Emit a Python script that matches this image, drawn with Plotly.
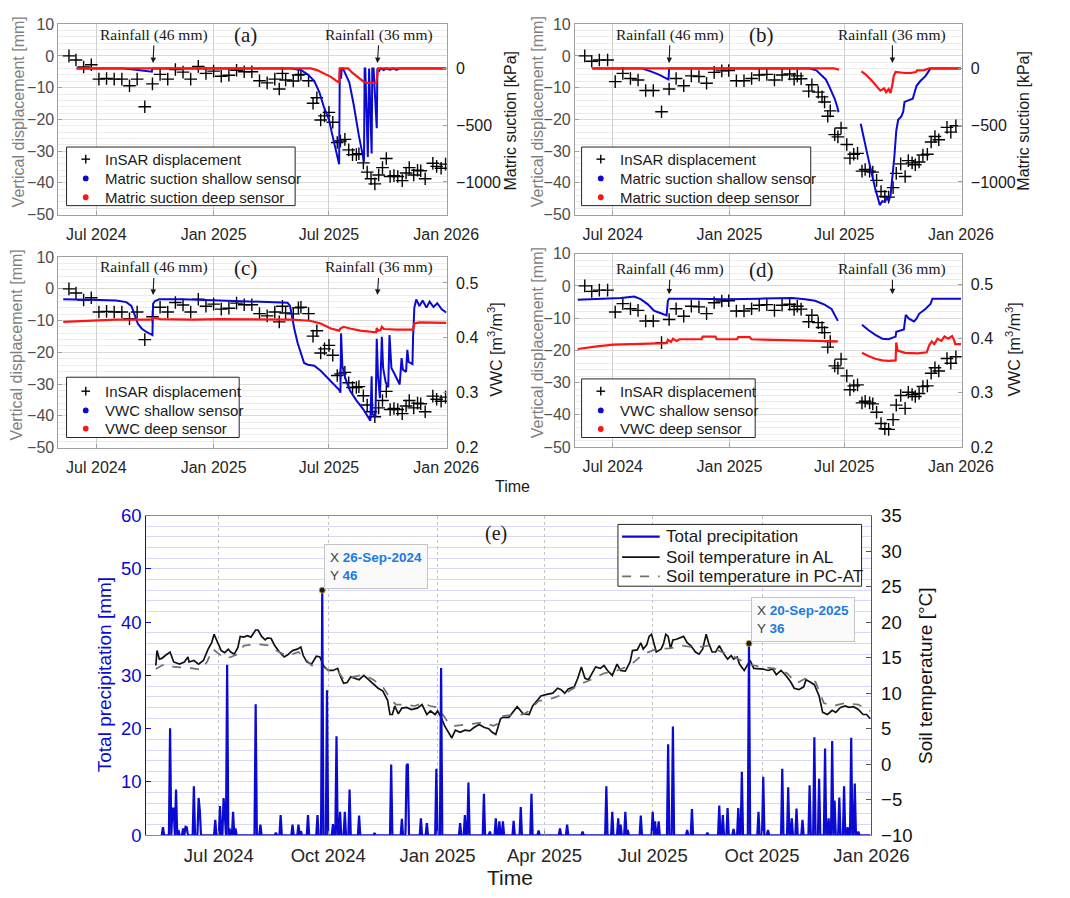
import pandas as pd
import plotly.graph_objects as go

W, H = 1070, 898
def fx(p): return p / W
def fy(p): return 1 - p / H

SANS = "Liberation Sans, Arial, Helvetica, sans-serif"
SERIF = "Liberation Serif, Times New Roman, serif"
BLUE = "#0a0ad2"
RED = "#ff1414"
BOX = "#a0a0a0"

# ---------------- data ----------------
insar_a_dates = ["2024-05-19","2024-05-30","2024-06-11","2024-06-23","2024-07-05","2024-07-17","2024-07-29","2024-08-10","2024-08-22","2024-09-03",
                 "2024-09-15","2024-09-27","2024-10-09","2024-10-21","2024-11-02","2024-11-14","2024-11-26","2024-12-08","2024-12-20","2025-01-01",
                 "2025-01-13","2025-01-25","2025-02-06","2025-02-18","2025-03-02","2025-03-14","2025-03-26","2025-04-07","2025-04-14","2025-04-19",
                 "2025-04-24","2025-05-06","2025-05-14","2025-05-18","2025-05-30","2025-06-06","2025-06-12","2025-06-18","2025-06-24","2025-07-01",
                 "2025-07-07","2025-07-14","2025-07-19","2025-07-26","2025-08-01","2025-08-07","2025-08-13","2025-08-17","2025-08-24","2025-08-30",
                 "2025-09-05","2025-09-11","2025-09-17","2025-09-23","2025-09-29","2025-10-05","2025-10-11","2025-10-17","2025-10-24","2025-10-30",
                 "2025-11-04","2025-11-11","2025-11-17","2025-11-22","2025-11-29","2025-12-11","2025-12-17","2025-12-24","2025-12-31"]
insar_a_mm = [0, -1.3, -3.5, -2.8, -7.3, -7.1, -7.3, -7.3, -9.4, -7.3,
              -16.0, -8.8, -5.8, -7.3, -4.3, -5.1, -7.3, -3.3, -5.5, -4.8,
              -6.4, -6.1, -4.5, -5.0, -5.0, -7.8, -8.5, -7.3, -10.4, -5.5,
              -7.6, -7.9, -6.0, -5.8, -7.8, -14.9, -13.2, -20.2, -18.9, -17.8,
              -20.9, -27.3, -26.8, -26.3, -29.6, -31.1, -31.1, -30.8, -33.7, -36.6,
              -38.7, -40.3, -37.5, -35.2, -32.3, -38.0, -37.7, -38.0, -39.3, -36.9,
              -35.2, -37.5, -36.0, -36.2, -38.7, -33.8, -34.8, -35.4, -34.1]

insar_b_dates = ["2024-05-18","2024-05-29","2024-06-10","2024-06-23","2024-07-05","2024-07-17","2024-07-29","2024-08-10","2024-08-22","2024-09-03",
                 "2024-09-16","2024-09-28","2024-10-09","2024-10-21","2024-11-02","2024-11-14","2024-11-26","2024-12-08","2024-12-20","2024-12-31",
                 "2025-01-12","2025-01-24","2025-02-05","2025-02-17","2025-03-01","2025-03-13","2025-03-25","2025-04-06","2025-04-13","2025-04-18",
                 "2025-04-24","2025-05-06","2025-05-11","2025-05-21","2025-05-27","2025-05-31","2025-06-05","2025-06-09","2025-06-16","2025-06-21",
                 "2025-06-26","2025-07-05","2025-07-10","2025-07-16","2025-07-22","2025-07-29","2025-08-03","2025-08-10","2025-08-15","2025-08-21",
                 "2025-08-28","2025-09-03","2025-09-09","2025-09-16","2025-09-21","2025-09-28","2025-10-05","2025-10-10","2025-10-16","2025-10-21",
                 "2025-10-27","2025-11-02","2025-11-09","2025-11-15","2025-11-21","2025-11-27","2025-12-10","2025-12-16","2025-12-24"]
insar_b_mm = [0, -1.7, -1.3, -1.3, -8.1, -5.5, -7.1, -7.6, -10.9, -10.9,
              -17.6, -10.4, -7.1, -9.4, -6.3, -6.5, -8.6, -5.2, -4.7, -4.6,
              -7.8, -7.8, -7.1, -6.0, -5.8, -7.6, -6.0, -5.7, -7.3, -6.3,
              -7.2, -11.1, -9.1, -11.4, -12.9, -14.5, -19.0, -17.3, -24.8, -25.5,
              -22.7, -27.9, -32.2, -31.0, -30.7, -36.3, -35.8, -36.3, -36.6, -39.2,
              -42.7, -44.3, -44.5, -41.5, -37.0, -34.0, -38.0, -33.0, -33.7, -34.3,
              -33.4, -31.2, -31.0, -27.1, -25.4, -26.4, -22.5, -24.0, -22.0]

# matric suction [kPa], (date, value); (None, None) = data gap
suction_a_shallow = [("2024-05-31", 0), ("2024-08-12", 0), ("2024-08-25", -8), ("2024-09-08", -15), ("2024-09-26", -28), ("2024-09-27", 0),
    ("2025-05-04", 0), ("2025-05-19", -17), ("2025-05-29", -54), ("2025-06-08", -111), ("2025-06-16", -210), ("2025-06-23", -338),
    ("2025-07-01", -451), ("2025-07-06", -579), ("2025-07-11", -693), ("2025-07-15", -806), ("2025-07-17", -845), ("2025-07-18", 0),
    ("2025-07-20", -90), ("2025-07-21", 0), ("2025-07-23", 0), ("2025-08-02", -125), ("2025-08-09", -324), ("2025-08-17", -594),
    ("2025-08-23", -778), ("2025-08-25", -821), ("2025-08-26", 0), ("2025-08-27", 0), ("2025-08-31", -780), ("2025-09-01", 0),
    ("2025-09-02", 0), ("2025-09-06", -750), ("2025-09-07", 0), ("2025-09-09", 0), ("2025-09-14", -527), ("2025-09-15", 0),
    ("2025-09-18", -20), ("2025-09-20", 0), ("2025-09-25", -15), ("2025-09-28", 0), ("2025-10-05", -10), ("2025-10-10", 0),
    ("2025-10-15", -12), ("2025-10-20", 0), ("2026-01-01", 0)]
suction_a_deep = [("2024-05-31", 0), ("2025-06-03", 0), ("2025-06-13", -17), ("2025-06-23", -45), ("2025-07-04", -74), ("2025-07-11", -102),
    ("2025-07-17", -125), ("2025-07-18", 0), ("2025-07-31", 0), ("2025-08-07", -40), ("2025-08-17", -82), ("2025-08-25", -119),
    ("2025-08-30", -128), ("2025-09-07", -130), ("2025-09-13", -128), ("2025-09-14", -105), ("2025-09-15", -60), ("2025-09-16", 0),
    ("2026-01-01", 0)]
suction_b_shallow = [("2024-05-30", 0), ("2024-08-17", 0), ("2024-08-30", -26), ("2024-09-12", -54), ("2024-09-25", -91), ("2024-09-27", -97),
    ("2024-09-28", 0), ("2025-05-08", 0), ("2025-05-18", -17), ("2025-05-25", -54), ("2025-06-02", -97), ("2025-06-07", -153),
    ("2025-06-12", -210), ("2025-06-16", -267), ("2025-06-20", -338), ("2025-06-22", -386), (None, None),
    ("2025-07-27", -488), ("2025-07-31", -579), ("2025-08-04", -693), ("2025-08-09", -821), ("2025-08-14", -949), ("2025-08-19", -1062),
    ("2025-08-24", -1162), ("2025-08-26", -1204), ("2025-08-30", -1170), ("2025-09-03", -1176), ("2025-09-07", -1133), ("2025-09-09", -1170),
    ("2025-09-12", -1119), ("2025-09-15", -977), ("2025-09-18", -778), ("2025-09-21", -551), ("2025-09-24", -452), ("2025-09-29", -423),
    ("2025-10-02", -381), ("2025-10-04", -295), ("2025-10-12", -281), ("2025-10-17", -267), ("2025-10-20", -210), ("2025-10-23", -153),
    ("2025-10-29", -111), ("2025-11-06", -68), ("2025-11-11", -26), ("2025-11-14", 0), ("2026-01-01", 0)]
suction_b_deep = [("2024-05-30", 0), ("2025-06-15", 0), ("2025-06-23", -11), (None, None),
    ("2025-07-28", -26), ("2025-08-04", -54), ("2025-08-14", -111), ("2025-08-22", -159), ("2025-08-27", -196), ("2025-09-02", -176),
    ("2025-09-05", -210), ("2025-09-09", -182), ("2025-09-12", -216), ("2025-09-15", -139), ("2025-09-17", -68), ("2025-09-20", -30),
    ("2025-10-04", -40), ("2025-10-14", -40), ("2025-10-22", -31), ("2025-10-24", -17), ("2025-11-04", -14), ("2025-11-12", 0),
    ("2026-01-01", 0)]

# volumetric water content [m3/m3]
vwc_c_shallow = [("2024-05-10", 0.470), ("2024-06-10", 0.470), ("2024-07-06", 0.469), ("2024-08-01", 0.468), ("2024-08-17", 0.465),
    ("2024-08-25", 0.458), ("2024-08-30", 0.443), ("2024-09-04", 0.426), ("2024-09-10", 0.417), ("2024-09-17", 0.411), ("2024-09-27", 0.405),
    ("2024-09-28", 0.462), ("2024-10-01", 0.467), ("2024-10-08", 0.470), ("2024-11-13", 0.470), ("2025-01-04", 0.468), ("2025-02-25", 0.467),
    ("2025-04-14", 0.465), ("2025-04-27", 0.464), ("2025-05-01", 0.458), ("2025-05-04", 0.438), ("2025-05-08", 0.414), ("2025-05-13", 0.390),
    ("2025-05-19", 0.366), ("2025-05-23", 0.354), ("2025-05-29", 0.351), ("2025-06-08", 0.349), ("2025-06-18", 0.340), ("2025-06-28", 0.328),
    ("2025-07-08", 0.316), ("2025-07-17", 0.305), ("2025-07-19", 0.300), ("2025-07-20", 0.408), ("2025-07-22", 0.349), ("2025-07-27", 0.325),
    ("2025-08-03", 0.304), ("2025-08-13", 0.286), ("2025-08-23", 0.271), ("2025-08-31", 0.256), ("2025-09-04", 0.249), ("2025-09-06", 0.330),
    ("2025-09-07", 0.262), ("2025-09-12", 0.255), ("2025-09-14", 0.398), ("2025-09-16", 0.330), ("2025-09-19", 0.290), ("2025-09-22", 0.402),
    ("2025-09-24", 0.345), ("2025-09-28", 0.319), ("2025-10-02", 0.310), ("2025-10-04", 0.405), ("2025-10-07", 0.345), ("2025-10-12", 0.334),
    ("2025-10-20", 0.315), ("2025-10-23", 0.363), ("2025-10-25", 0.342), ("2025-10-30", 0.338), ("2025-11-01", 0.378), ("2025-11-03", 0.356),
    ("2025-11-09", 0.352), ("2025-11-10", 0.400), ("2025-11-12", 0.455), ("2025-11-15", 0.470), ("2025-11-20", 0.458), ("2025-11-25", 0.468),
    ("2025-12-01", 0.455), ("2025-12-06", 0.466), ("2025-12-12", 0.456), ("2025-12-18", 0.463), ("2025-12-25", 0.452), ("2026-01-01", 0.446)]
vwc_c_deep = [("2024-05-10", 0.429), ("2024-06-15", 0.431), ("2024-08-01", 0.433), ("2024-09-26", 0.433), ("2024-09-28", 0.436),
    ("2024-10-10", 0.434), ("2024-12-01", 0.433), ("2025-01-10", 0.434), ("2025-03-01", 0.434), ("2025-04-14", 0.433), ("2025-05-04", 0.433),
    ("2025-06-01", 0.431), ("2025-06-18", 0.426), ("2025-07-04", 0.417), ("2025-07-17", 0.413), ("2025-07-19", 0.417), ("2025-07-24", 0.420),
    ("2025-08-03", 0.417), ("2025-08-19", 0.413), ("2025-09-13", 0.410), ("2025-09-14", 0.418), ("2025-09-16", 0.413), ("2025-09-20", 0.414),
    ("2025-09-22", 0.420), ("2025-09-25", 0.416), ("2025-10-15", 0.415), ("2025-11-10", 0.415), ("2025-11-12", 0.426), ("2025-11-20", 0.428),
    ("2026-01-01", 0.427)]
vwc_d_shallow = [("2024-05-07", 0.472), ("2024-06-18", 0.473), ("2024-07-14", 0.475), ("2024-08-04", 0.478), ("2024-08-14", 0.473),
    ("2024-08-25", 0.464), ("2024-09-04", 0.452), ("2024-09-15", 0.447), ("2024-09-24", 0.443), ("2024-09-26", 0.470), ("2024-09-28", 0.474),
    ("2024-11-06", 0.474), ("2024-12-28", 0.473), ("2025-02-17", 0.474), ("2025-04-10", 0.475), ("2025-04-30", 0.473), ("2025-05-16", 0.470),
    ("2025-05-31", 0.463), ("2025-06-11", 0.455), ("2025-06-21", 0.433), (None, None),
    ("2025-07-29", 0.426), ("2025-08-08", 0.416), ("2025-08-19", 0.407), ("2025-08-30", 0.400), ("2025-09-09", 0.399), ("2025-09-20", 0.404),
    ("2025-09-21", 0.413), ("2025-09-28", 0.416), ("2025-10-03", 0.417), ("2025-10-06", 0.444), ("2025-10-11", 0.437), ("2025-10-19", 0.432),
    ("2025-10-23", 0.437), ("2025-10-27", 0.446), ("2025-11-06", 0.455), ("2025-11-14", 0.464), ("2025-11-17", 0.474), ("2025-12-03", 0.474),
    ("2026-01-01", 0.474)]
vwc_d_deep = [("2024-05-07", 0.381), ("2024-06-06", 0.386), ("2024-07-03", 0.389), ("2024-07-29", 0.390), ("2024-09-15", 0.391),
    ("2024-09-24", 0.392), ("2024-09-26", 0.398), ("2024-10-01", 0.394), ("2024-10-04", 0.400), ("2024-10-10", 0.396), ("2024-10-14", 0.399),
    ("2024-11-18", 0.399), ("2024-11-20", 0.404), ("2024-12-10", 0.404), ("2024-12-12", 0.399), ("2025-01-13", 0.399), ("2025-01-15", 0.403),
    ("2025-02-02", 0.403), ("2025-02-05", 0.399), ("2025-04-10", 0.397), ("2025-06-21", 0.395), (None, None),
    ("2025-07-29", 0.374), ("2025-08-08", 0.368), ("2025-08-19", 0.363), ("2025-08-30", 0.360), ("2025-09-09", 0.359), ("2025-09-20", 0.360),
    ("2025-09-21", 0.393), ("2025-09-23", 0.378), ("2025-10-05", 0.374), ("2025-10-25", 0.373), ("2025-11-08", 0.375), ("2025-11-12", 0.388),
    ("2025-11-16", 0.395), ("2025-11-20", 0.390), ("2025-11-25", 0.400), ("2025-12-01", 0.396), ("2025-12-06", 0.404), ("2025-12-12", 0.400),
    ("2025-12-18", 0.405), ("2025-12-21", 0.398), ("2025-12-23", 0.390), ("2026-01-01", 0.390)]

# daily rainfall events [mm] (days not listed: 0 mm)
rain_dates = ["2024-05-15","2024-05-21","2024-05-23","2024-05-24","2024-05-26","2024-05-28","2024-06-01","2024-06-03","2024-06-04","2024-06-10",
              "2024-06-14","2024-06-15","2024-06-28","2024-07-02","2024-07-05","2024-07-06","2024-07-08","2024-07-10","2024-07-13","2024-07-15",
              "2024-08-01","2024-08-05","2024-08-18","2024-08-22","2024-09-01","2024-09-06","2024-09-08","2024-09-14","2024-09-22","2024-09-26",
              "2024-09-30","2024-10-05","2024-10-08","2024-10-11","2024-10-15","2024-10-19","2024-10-27","2024-11-09","2024-11-23","2024-12-02",
              "2024-12-06","2024-12-07","2024-12-18","2024-12-23","2024-12-31","2025-01-04","2025-01-20","2025-01-24","2025-01-27","2025-02-09",
              "2025-02-14","2025-02-19","2025-02-22","2025-02-25","2025-03-06","2025-03-12","2025-03-21","2025-03-27","2025-04-14","2025-04-20",
              "2025-05-03","2025-05-23","2025-05-28","2025-06-02","2025-06-04","2025-06-08","2025-06-10","2025-06-21","2025-07-01","2025-07-03",
              "2025-07-06","2025-07-14","2025-07-18","2025-07-30","2025-08-03","2025-08-16","2025-08-26","2025-08-29","2025-09-02","2025-09-07",
              "2025-09-11","2025-09-14","2025-09-20","2025-09-28","2025-10-02","2025-10-06","2025-10-18","2025-10-23","2025-10-26","2025-10-30",
              "2025-11-04","2025-11-10","2025-11-14","2025-11-18","2025-11-23","2025-11-26","2025-11-29","2025-12-01","2025-12-05","2025-12-09",
              "2025-12-12","2025-12-15","2025-12-18","2025-12-21"]
rain_mm = [1.5, 20.1, 5.0, 5.0, 8.6, 1.0, 1.3, 1.6, 1.5, 9.2,
           7.0, 4.7, 2.9, 5.5, 7.0, 4.1, 32.0, 1.3, 4.4, 1.3,
           24.6, 2.0, 0.5, 3.8, 2.0, 2.0, 0.8, 3.8, 3.8, 46.0,
           27.2, 2.1, 18.6, 4.4, 4.4, 8.6, 3.7, 0.4, 13.3, 3.1,
           13.1, 13.4, 3.2, 2.3, 12.5, 31.4, 2.3, 3.8, 9.9, 7.8,
           0.7, 3.2, 2.6, 2.6, 2.7, 5.3, 7.8, 0.9, 1.3, 2.0,
           0.7, 9.2, 4.4, 3.2, 2.0, 4.4, 1.0, 3.7, 4.4, 2.6,
           2.6, 17.1, 20.4, 1.0, 4.9, 0.5, 5.6, 3.8, 5.1, 1.2,
           5.1, 11.9, 36.0, 4.4, 11.0, 1.0, 12.5, 9.0, 3.2, 5.0,
           2.9, 9.4, 18.4, 10.6, 16.3, 3.2, 17.7, 6.5, 7.1, 9.2,
           1.5, 18.3, 9.7, 0.7]
rain_start, rain_end = "2024-05-14", "2025-12-31"

tip_dates = ["2024-09-26", "2025-09-20"]
tip_mm = [46, 36]
tip_labels = ["26-Sep-2024", "20-Sep-2025"]

# soil temperature [degC]
temp_al = [("2024-05-09", 13.9), ("2024-05-10", 16.0), ("2024-05-12", 14.8), ("2024-05-14", 14.9), ("2024-05-17", 15.3), ("2024-05-21", 15.8),
    ("2024-05-24", 14.4), ("2024-05-29", 14.1), ("2024-06-02", 14.4), ("2024-06-05", 15.1), ("2024-06-06", 14.4), ("2024-06-10", 14.6),
    ("2024-06-14", 14.1), ("2024-06-18", 14.6), ("2024-06-22", 16.2), ("2024-06-25", 17.1), ("2024-06-27", 18.3), ("2024-06-30", 17.1),
    ("2024-07-03", 16.0), ("2024-07-06", 15.7), ("2024-07-09", 16.2), ("2024-07-11", 15.8), ("2024-07-14", 15.5), ("2024-07-17", 16.4),
    ("2024-07-19", 18.0), ("2024-07-22", 17.9), ("2024-07-25", 18.1), ("2024-07-28", 17.9), ("2024-07-30", 18.4), ("2024-08-01", 18.9),
    ("2024-08-03", 18.9), ("2024-08-06", 18.0), ("2024-08-09", 17.5), ("2024-08-11", 17.8), ("2024-08-14", 17.7), ("2024-08-17", 16.7),
    ("2024-08-21", 15.8), ("2024-08-25", 15.1), ("2024-08-28", 15.4), ("2024-09-01", 16.0), ("2024-09-05", 16.2), ("2024-09-08", 16.5),
    ("2024-09-10", 15.3), ("2024-09-13", 14.4), ("2024-09-17", 14.1), ("2024-09-21", 15.2), ("2024-09-24", 15.1), ("2024-09-27", 13.9),
    ("2024-10-01", 13.2), ("2024-10-05", 13.2), ("2024-10-09", 13.5), ("2024-10-11", 12.5), ("2024-10-14", 11.4), ("2024-10-17", 11.5),
    ("2024-10-20", 12.3), ("2024-10-24", 12.1), ("2024-10-27", 11.9), ("2024-10-31", 12.5), ("2024-11-04", 11.9), ("2024-11-08", 11.2),
    ("2024-11-12", 10.7), ("2024-11-16", 10.3), ("2024-11-20", 9.0), ("2024-11-22", 7.0), ("2024-11-24", 7.0), ("2024-11-26", 8.2),
    ("2024-11-29", 7.1), ("2024-12-02", 7.9), ("2024-12-06", 8.0), ("2024-12-10", 7.7), ("2024-12-15", 7.9), ("2024-12-19", 8.4),
    ("2024-12-23", 7.0), ("2024-12-26", 7.5), ("2024-12-30", 7.0), ("2025-01-01", 7.5), ("2025-01-04", 6.6), ("2025-01-07", 5.4),
    ("2025-01-10", 4.5), ("2025-01-13", 3.7), ("2025-01-16", 4.8), ("2025-01-20", 4.5), ("2025-01-24", 4.8), ("2025-01-28", 4.7),
    ("2025-02-01", 5.2), ("2025-02-05", 5.6), ("2025-02-09", 5.2), ("2025-02-13", 5.0), ("2025-02-16", 4.5), ("2025-02-19", 4.2),
    ("2025-02-23", 6.4), ("2025-02-25", 6.6), ("2025-03-02", 6.6), ("2025-03-06", 7.5), ("2025-03-09", 8.1), ("2025-03-14", 7.1),
    ("2025-03-19", 7.0), ("2025-03-22", 8.2), ("2025-03-26", 9.1), ("2025-03-29", 9.6), ("2025-04-02", 9.8), ("2025-04-08", 10.0),
    ("2025-04-12", 10.7), ("2025-04-15", 10.5), ("2025-04-18", 10.0), ("2025-04-21", 10.6), ("2025-04-26", 10.9), ("2025-04-29", 12.1),
    ("2025-05-02", 13.7), ("2025-05-05", 12.1), ("2025-05-08", 11.9), ("2025-05-12", 13.2), ("2025-05-14", 13.7), ("2025-05-18", 13.5),
    ("2025-05-21", 13.9), ("2025-05-24", 13.2), ("2025-05-28", 12.5), ("2025-06-01", 14.1), ("2025-06-04", 13.2), ("2025-06-08", 13.1),
    ("2025-06-12", 14.4), ("2025-06-14", 16.0), ("2025-06-18", 16.1), ("2025-06-21", 17.1), ("2025-06-23", 16.2), ("2025-06-26", 16.8),
    ("2025-06-28", 18.0), ("2025-06-30", 18.3), ("2025-07-02", 16.9), ("2025-07-04", 15.8), ("2025-07-08", 16.2), ("2025-07-10", 16.9),
    ("2025-07-12", 18.3), ("2025-07-14", 18.0), ("2025-07-16", 16.3), ("2025-07-18", 17.5), ("2025-07-21", 17.6), ("2025-07-24", 17.8),
    ("2025-07-27", 18.0), ("2025-07-30", 17.1), ("2025-08-02", 16.7), ("2025-08-06", 15.8), ("2025-08-09", 15.5), ("2025-08-12", 16.2),
    ("2025-08-15", 18.3), ("2025-08-17", 17.1), ("2025-08-20", 15.8), ("2025-08-23", 15.8), ("2025-08-26", 16.7), ("2025-08-30", 15.5),
    ("2025-09-02", 14.8), ("2025-09-05", 15.3), ("2025-09-07", 14.8), ("2025-09-10", 15.1), ("2025-09-12", 14.1), ("2025-09-16", 13.2),
    ("2025-09-18", 13.7), ("2025-09-21", 14.6), ("2025-09-24", 13.5), ("2025-09-28", 13.5), ("2025-10-02", 13.4), ("2025-10-06", 13.2),
    ("2025-10-10", 13.4), ("2025-10-13", 12.6), ("2025-10-17", 13.2), ("2025-10-21", 12.5), ("2025-10-25", 11.6), ("2025-10-28", 10.7),
    ("2025-11-01", 10.5), ("2025-11-05", 10.9), ("2025-11-07", 11.9), ("2025-11-10", 11.6), ("2025-11-14", 11.2), ("2025-11-18", 9.6),
    ("2025-11-21", 7.3), ("2025-11-25", 7.0), ("2025-11-29", 7.6), ("2025-12-02", 7.3), ("2025-12-06", 8.0), ("2025-12-10", 8.2),
    ("2025-12-13", 8.0), ("2025-12-17", 8.1), ("2025-12-21", 7.7), ("2025-12-25", 7.0), ("2025-12-28", 7.0), ("2025-12-31", 6.4)]
temp_pcat = [("2024-05-09", 13.4), ("2024-05-14", 13.9), ("2024-05-18", 14.1), ("2024-05-24", 13.7), ("2024-06-01", 13.6), ("2024-06-09", 13.5),
    ("2024-06-16", 13.3), ("2024-06-21", 14.4), ("2024-06-26", 16.2), ("2024-07-01", 15.5), ("2024-07-06", 14.9), ("2024-07-11", 15.1),
    ("2024-07-17", 15.5), ("2024-07-22", 16.7), ("2024-07-28", 16.8), ("2024-08-02", 16.9), ("2024-08-08", 16.8), ("2024-08-13", 16.7),
    ("2024-08-16", 16.2), ("2024-08-21", 15.8), ("2024-08-27", 15.3), ("2024-09-01", 15.5), ("2024-09-06", 15.8), ("2024-09-12", 14.8),
    ("2024-09-17", 13.9), ("2024-09-23", 13.9), ("2024-09-27", 13.7), ("2024-10-01", 13.2), ("2024-10-09", 13.2), ("2024-10-14", 11.9),
    ("2024-10-22", 12.3), ("2024-10-31", 12.6), ("2024-11-08", 11.9), ("2024-11-16", 10.9), ("2024-11-22", 9.3), ("2024-11-27", 8.4),
    ("2024-12-05", 8.4), ("2024-12-13", 8.2), ("2024-12-19", 8.6), ("2024-12-26", 8.2), ("2025-01-01", 8.0), ("2025-01-07", 6.6),
    ("2025-01-11", 5.6), ("2025-01-16", 5.4), ("2025-01-24", 5.6), ("2025-02-01", 5.8), ("2025-02-09", 5.9), ("2025-02-17", 5.4),
    ("2025-02-21", 5.7), ("2025-02-25", 6.8), ("2025-03-06", 7.0), ("2025-03-14", 7.0), ("2025-03-19", 7.5), ("2025-03-27", 8.9),
    ("2025-04-08", 9.3), ("2025-04-19", 10.0), ("2025-04-30", 11.2), ("2025-05-10", 11.9), ("2025-05-21", 12.8), ("2025-06-01", 13.2),
    ("2025-06-12", 13.9), ("2025-06-23", 15.5), ("2025-07-04", 16.2), ("2025-07-15", 16.3), ("2025-07-26", 16.7), ("2025-08-06", 16.4),
    ("2025-08-17", 16.7), ("2025-08-28", 15.8), ("2025-09-08", 15.1), ("2025-09-19", 14.1), ("2025-09-30", 13.7), ("2025-10-11", 13.5),
    ("2025-10-22", 12.8), ("2025-10-30", 11.4), ("2025-11-07", 12.1), ("2025-11-15", 11.6), ("2025-11-22", 8.6), ("2025-11-29", 8.2),
    ("2025-12-10", 8.6), ("2025-12-21", 8.4), ("2025-12-31", 7.5)]

rain_arrow_dates = ["2024-09-28", "2025-09-15"]
rain_arrow_labels = ["Rainfall (46 mm)", "Rainfall (36 mm)"]

legend_suction = ["InSAR displacement", "Matric suction shallow sensor", "Matric suction deep sensor"]
legend_vwc = ["InSAR displacement", "VWC shallow sensor", "VWC deep sensor"]
legend_e = ["Total precipitation", "Soil temperature in AL", "Soil temperature in PC-AT"]

# ---------------- figure ----------------
def unzip(pairs):
    return [p[0] for p in pairs], [p[1] for p in pairs]

fig = go.Figure()

def add_panel(xid, ylid, yrid, ins_d, ins_v, shallow, deep, names):
    fig.add_trace(go.Scatter(x=ins_d, y=ins_v, mode="markers", name=names[0], showlegend=False,
                             marker=dict(symbol="cross-thin", size=9, color="black", line=dict(width=1.4, color="black")),
                             xaxis=xid, yaxis=ylid, hoverinfo="skip"))
    sd, sv = unzip(shallow)
    dd, dv = unzip(deep)
    fig.add_trace(go.Scatter(x=sd, y=sv, mode="lines", name=names[1], line=dict(color=BLUE, width=2), showlegend=False,
                             xaxis=xid, yaxis=yrid, hoverinfo="skip"))
    fig.add_trace(go.Scatter(x=dd, y=dv, mode="lines", name=names[2], line=dict(color=RED, width=2.2), showlegend=False,
                             xaxis=xid, yaxis=yrid, hoverinfo="skip"))

add_panel("x", "y", "y2", insar_a_dates, insar_a_mm, suction_a_shallow, suction_a_deep, legend_suction)
add_panel("x2", "y3", "y4", insar_b_dates, insar_b_mm, suction_b_shallow, suction_b_deep, legend_suction)
add_panel("x3", "y5", "y6", insar_a_dates, insar_a_mm, vwc_c_shallow, vwc_c_deep, legend_vwc)
add_panel("x4", "y7", "y8", insar_b_dates, insar_b_mm, vwc_d_shallow, vwc_d_deep, legend_vwc)

# panel (e): temperatures (base axis, right) then precipitation (overlay axis, left) on top
ad, av = unzip(temp_al)
fig.add_trace(go.Scatter(x=ad, y=av, mode="lines", name=legend_e[1], showlegend=False,
                         line=dict(color="#111111", width=1.7), xaxis="x5", yaxis="y9", hoverinfo="skip"))
pdts, pv = unzip(temp_pcat)
fig.add_trace(go.Scatter(x=pdts, y=pv, mode="lines", name=legend_e[2], showlegend=False,
                         line=dict(color="#707070", width=1.7, dash="dash"), xaxis="x5", yaxis="y9", hoverinfo="skip"))
rain = pd.Series(0.0, index=pd.date_range(rain_start, rain_end, freq="D"))
rain.loc[pd.to_datetime(rain_dates)] = rain_mm
fig.add_trace(go.Scatter(x=rain.index, y=rain.values, mode="lines", name=legend_e[0], showlegend=False,
                         line=dict(color=BLUE, width=2.2), xaxis="x5", yaxis="y10", hoverinfo="skip"))
fig.add_trace(go.Scatter(x=tip_dates, y=tip_mm, mode="markers", showlegend=False,
                         marker=dict(size=6, color="#1a1a1a", line=dict(color="#b89b3c", width=1)),
                         xaxis="x5", yaxis="y10", hoverinfo="skip"))

# ---------------- axes ----------------
XR = ["2024-05-02 12:00", "2026-01-02"]
def x_axis(l, r, anchor, size=16, rng=XR, dtick="M6"):
    return dict(domain=[fx(l), fx(r)], anchor=anchor, type="date", range=rng, dtick=dtick, tick0="2024-01-01",
                tickformat="%b %Y", showgrid=True, gridcolor="#d0d0d0", gridwidth=1, showline=True, mirror=True,
                linecolor=BOX, linewidth=1, ticks="inside", ticklen=4, tickcolor=BOX, ticklabelstandoff=5,
                tickfont=dict(family=SANS, size=size, color="#262626"), zeroline=False)

def y_left(t, b, anchor):
    return dict(domain=[fy(b), fy(t)], anchor=anchor, range=[-50, 10], dtick=10, tick0=0,
                showgrid=True, gridcolor="#dadada", gridwidth=1,
                minor=dict(dtick=2, tick0=0, showgrid=True, gridcolor="#ececec", gridwidth=1),
                showline=True, linecolor=BOX, ticks="inside", ticklen=4, tickcolor=BOX,
                tickfont=dict(family=SANS, size=16, color="#4d4d4d"), zeroline=False)

def y_right(anchor, over, rng, tv):
    return dict(overlaying=over, side="right", anchor=anchor, range=rng, tickvals=tv, showgrid=False,
                showline=True, linecolor=BOX, ticks="inside", ticklen=4, tickcolor=BOX,
                tickfont=dict(family=SANS, size=16, color="#1a1a1a"), zeroline=False, ticklabelstandoff=5)

KPA = [-1288, 390]
layout = dict(
    width=W, height=H, margin=dict(l=0, r=0, t=0, b=0), paper_bgcolor="white", plot_bgcolor="white",
    font=dict(family=SANS, size=15, color="#262626"), showlegend=False,
    xaxis=x_axis(60.6, 463.3, "y"), yaxis=y_left(13.5, 208.5, "x"), yaxis2=y_right("x", "y", KPA, [-1000, -500, 0]),
    xaxis2=x_axis(596.1, 997, "y3"), yaxis3=y_left(13.5, 208.5, "x2"), yaxis4=y_right("x2", "y3", KPA, [-1000, -500, 0]),
    xaxis3=x_axis(60.6, 463.3, "y5"), yaxis5=y_left(252, 447, "x3"), yaxis6=y_right("x3", "y5", [0.2, 0.547], [0.2, 0.3, 0.4, 0.5]),
    xaxis4=x_axis(596.1, 997, "y7"), yaxis7=y_left(248.5, 446.5, "x4"), yaxis8=y_right("x4", "y7", [0.2, 0.557], [0.2, 0.3, 0.4, 0.5]),
)
ex = x_axis(151.7, 903.5, "y9", size=18.5, rng=["2024-05-01", "2026-01-01"], dtick="M3")
ex.update(gridcolor="#c4c4c4", griddash="dot", linecolor="#8a8a8a", tickcolor="#8a8a8a", ticklabelstandoff=4)
layout["xaxis5"] = ex
layout["yaxis9"] = dict(domain=[fy(844), fy(516.7)], anchor="x5", side="right", range=[-10, 35], dtick=5, tick0=-10,
                        showgrid=False, minor=dict(tick0=-10, dtick=1.5, showgrid=True, gridcolor="#d9d9f7", gridwidth=1),
                        showline=True, linecolor="#555555", ticks="inside", ticklen=5, tickcolor="#555555",
                        tickfont=dict(family=SANS, size=18.5, color="#111111"), zeroline=False, ticklabelstandoff=5)
layout["yaxis10"] = dict(overlaying="y9", anchor="x5", side="left", range=[0, 60], dtick=10, showgrid=False,
                         showline=True, linecolor=BLUE, ticks="inside", ticklen=5, tickcolor=BLUE,
                         tickfont=dict(family=SANS, size=18.5, color=BLUE), zeroline=False)

# ---------------- legends (drawn boxes) ----------------
shapes = []
ann = []

def pline(x0, y0, x1, y1, color, width, dash="solid"):
    shapes.append(dict(type="line", xref="paper", yref="paper", x0=fx(x0), y0=fy(y0), x1=fx(x1), y1=fy(y1),
                       line=dict(color=color, width=width, dash=dash), layer="above"))

def legend_box(l, t, r, b, rows, sym_x, text_x, names, kinds, size):
    shapes.append(dict(type="rect", xref="paper", yref="paper", x0=fx(l), y0=fy(b), x1=fx(r), y1=fy(t),
                       line=dict(color="#262626", width=1), fillcolor="white", layer="above"))
    for cy, name, kind in zip(rows, names, kinds):
        if kind == "cross":
            pline(sym_x - 4.5, cy, sym_x + 4.5, cy, "black", 1.4)
            pline(sym_x, cy - 4.5, sym_x, cy + 4.5, "black", 1.4)
        elif kind in ("dotblue", "dotred"):
            c = BLUE if kind == "dotblue" else RED
            shapes.append(dict(type="circle", xref="paper", yref="paper", x0=fx(sym_x - 3), x1=fx(sym_x + 3),
                               y0=fy(cy + 3), y1=fy(cy - 3), fillcolor=c, line=dict(width=0), layer="above"))
        elif kind == "lineblue":
            pline(sym_x[0], cy, sym_x[1], cy, BLUE, 2.2)
        elif kind == "lineblack":
            pline(sym_x[0], cy, sym_x[1], cy, "#111111", 1.8)
        elif kind == "linegray":
            pline(sym_x[0], cy, sym_x[1], cy, "#707070", 1.8, "dash")
        ann.append(dict(text=name, x=fx(text_x), y=fy(cy), xref="paper", yref="paper", showarrow=False,
                        xanchor="left", yanchor="middle", font=dict(family=SANS, size=size, color="#1a1a1a")))

k3 = ["cross", "dotblue", "dotred"]
legend_box(69, 139.3, 306, 199.3, [151.7, 171.4, 190.7], 88.9, 106.3, legend_suction, k3, 15)
legend_box(603, 139.3, 840.6, 199.3, [151.7, 171.4, 190.7], 622.9, 640.3, legend_suction, k3, 15)
legend_box(69, 375, 248, 436.7, [389.3, 409, 427.6], 88.9, 106.3, legend_vwc, k3, 15)
legend_box(603, 376.7, 783, 436.7, [389.3, 409, 428], 622.9, 640.3, legend_vwc, k3, 15)
legend_box(640.7, 525.7, 893.3, 589, [538.3, 559.3, 579], (645, 684), 688.5, legend_e,
           ["lineblue", "lineblack", "linegray"], 17)

# ---------------- annotations ----------------
def txt(text, x, y, size, color="#1a1a1a", angle=0, family=SANS):
    ann.append(dict(text=text, x=fx(x), y=fy(y), xref="paper", yref="paper", showarrow=False, textangle=angle,
                    xanchor="center", yanchor="middle", font=dict(family=family, size=size, color=color)))

txt("Vertical displacement [mm]", 19, 103.5, 16, "#7f7f7f", -90)
txt("Matric suction [kPa]", 529, 112, 16, "#1a1a1a", -90)
txt("Vertical displacement [mm]", 557, 103.5, 16, "#7f7f7f", -90)
txt("Matric suction [kPa]", 1061, 112, 16, "#1a1a1a", -90)
txt("Vertical displacement [mm]", 17, 342, 16, "#7f7f7f", -90)
txt("VWC [m<sup>3</sup>/m<sup>3</sup>]", 513, 347, 16, "#1a1a1a", -90)
txt("Vertical displacement [mm]", 557, 340, 16, "#7f7f7f", -90)
txt("VWC [m<sup>3</sup>/m<sup>3</sup>]", 1050, 347, 16, "#1a1a1a", -90)
txt("Total precipitation [mm]", 108, 680, 19, BLUE, -90)
txt("Soil temperature [°C]", 959, 680, 19, "#111111", -90)
txt("Time", 531, 487, 16, "#1a1a1a")
txt("Time", 529, 887, 21, "#1a1a1a")
txt("(a)", 255, 25, 21, family=SERIF)
txt("(b)", 790, 25, 21, family=SERIF)
txt("(c)", 255, 263.3, 21, family=SERIF)
txt("(d)", 790, 265, 21, family=SERIF)
txt("(e)", 514, 535, 20, family=SERIF)

arrow_panels = [("x", "y", -2.25, -28.3, [1.2, 1.9]), ("x2", "y3", -2.25, -28.3, [1.0, 0.0]),
                ("x3", "y5", -1.9, -27.4, [1.2, 1.9]), ("x4", "y7", -2.6, -25.0, [1.0, 0.0])]
for xid, yid, tip, ay, axs in arrow_panels:
    for d, lab, axo in zip(rain_arrow_dates, rain_arrow_labels, axs):
        ann.append(dict(text=lab, x=d, y=tip, xref=xid, yref=yid, showarrow=True, arrowhead=2, arrowsize=1,
                        arrowwidth=1.1, arrowcolor="#1a1a1a", ax=axo, ay=ay, standoff=0,
                        font=dict(family=SERIF, size=15.5, color="#1a1a1a")))

for d, v, lab in zip(tip_dates, tip_mm, tip_labels):
    t = ('<span style="color:#404040">X </span><b><span style="color:#1a7ae6">%s</span></b><br>'
         '<span style="color:#404040">Y </span><b><span style="color:#1a7ae6">%s</span></b>') % (lab, v)
    ann.append(dict(text=t, x=d, y=v, xref="x5", yref="y10", showarrow=False, xanchor="left", yanchor="bottom",
                    xshift=2, yshift=1, align="left", bgcolor="rgba(250,250,250,0.97)", bordercolor="#c4c4c4",
                    borderwidth=1, borderpad=5, font=dict(family=SANS, size=13.5, color="#404040")))

layout["annotations"] = ann
layout["shapes"] = shapes
fig.update_layout(**layout)
fig.write_html("out.html")
